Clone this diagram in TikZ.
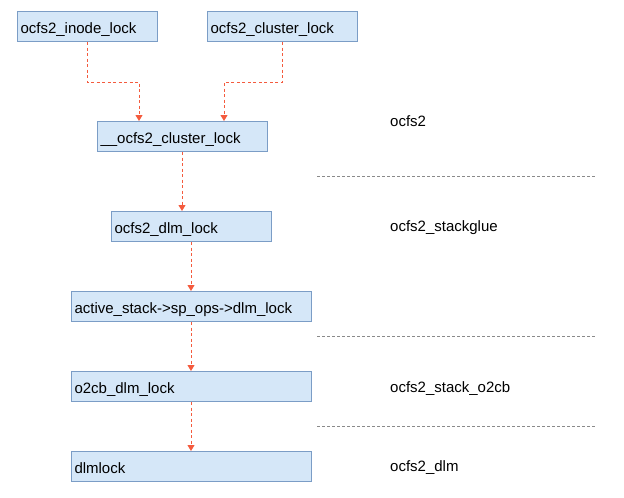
\documentclass[tikz,border=0pt]{standalone}
\usepackage{fontspec}
\setmainfont{Liberation Sans}
\usetikzlibrary{arrows.meta}
\definecolor{boxfill}{HTML}{D5E7F8}
\definecolor{boxline}{HTML}{7B9DC6}
\definecolor{arrowc}{HTML}{F45B3E}
\definecolor{divc}{HTML}{8A8A8A}
\tikzset{
  fbox/.style={draw=boxline, fill=boxfill, line width=1pt, anchor=north west,
    minimum height=30pt, inner xsep=3pt, inner ysep=0pt, align=left,
    text height=13pt, text depth=0pt,
    font=\fontsize{15}{18}\selectfont},
  arr/.style={draw=arrowc, line width=0.9pt, dash pattern=on 3pt off 2.5pt,
    -{Triangle[width=7pt,length=6pt,fill=arrowc]}},
  divider/.style={draw=divc, line width=0.8pt, dash pattern=on 3pt off 2pt},
  lbl/.style={anchor=base west, inner sep=0pt, font=\fontsize{15}{18}\selectfont}
}
\begin{document}
\begin{tikzpicture}[x=1pt,y=-1pt]
\useasboundingbox (0,0) rectangle (624,498);
\node[fbox, text width=134pt] (ia) at (17,11) {ocfs2\_inode\_lock};
\node[fbox, text width=144pt] (cb) at (207,11) {ocfs2\_cluster\_lock};
\node[fbox, text width=164pt] (cl) at (97,121) {\_\_ocfs2\_cluster\_lock};
\node[fbox, text width=154pt] (dl) at (111,211) {ocfs2\_dlm\_lock};
\node[fbox, text width=234pt] (as) at (71,291) {active\_stack->sp\_ops->dlm\_lock};
\node[fbox, text width=234pt] (o2) at (71,371) {o2cb\_dlm\_lock};
\node[fbox, text width=234pt] (dk) at (71,451) {dlmlock};

\draw[arr] ([xshift=70pt]ia.south west) -- ++(0,40) -| ([xshift=42pt]cl.north west);
\draw[arr] ([xshift=75pt]cb.south west) -- ++(0,40) -| ([xshift=127pt]cl.north west);
\draw[arr] ([xshift=85pt]cl.south west) -- ([xshift=71pt]dl.north west);
\draw[arr] ([xshift=80pt]dl.south west) -- ([xshift=120pt]as.north west);
\draw[arr] ([xshift=120pt]as.south west) -- ([xshift=120pt]o2.north west);
\draw[arr] ([xshift=120pt]o2.south west) -- ([xshift=120pt]dk.north west);

\coordinate (d1a) at (317,176); \coordinate (d1b) at (595,176);
\coordinate (d2a) at (317,336); \coordinate (d2b) at (595,336);
\coordinate (d3a) at (317,426); \coordinate (d3b) at (595,426);
\draw[divider] (d1a) -- (d1b);
\draw[divider] (d2a) -- (d2b);
\draw[divider] (d3a) -- (d3b);

\node[lbl] (l1) at (390,126) {ocfs2};
\node[lbl] (l2) at (390,231) {ocfs2\_stackglue};
\node[lbl] (l3) at (390,392) {ocfs2\_stack\_o2cb};
\node[lbl] (l4) at (390,471) {ocfs2\_dlm};
\end{tikzpicture}
\end{document}
